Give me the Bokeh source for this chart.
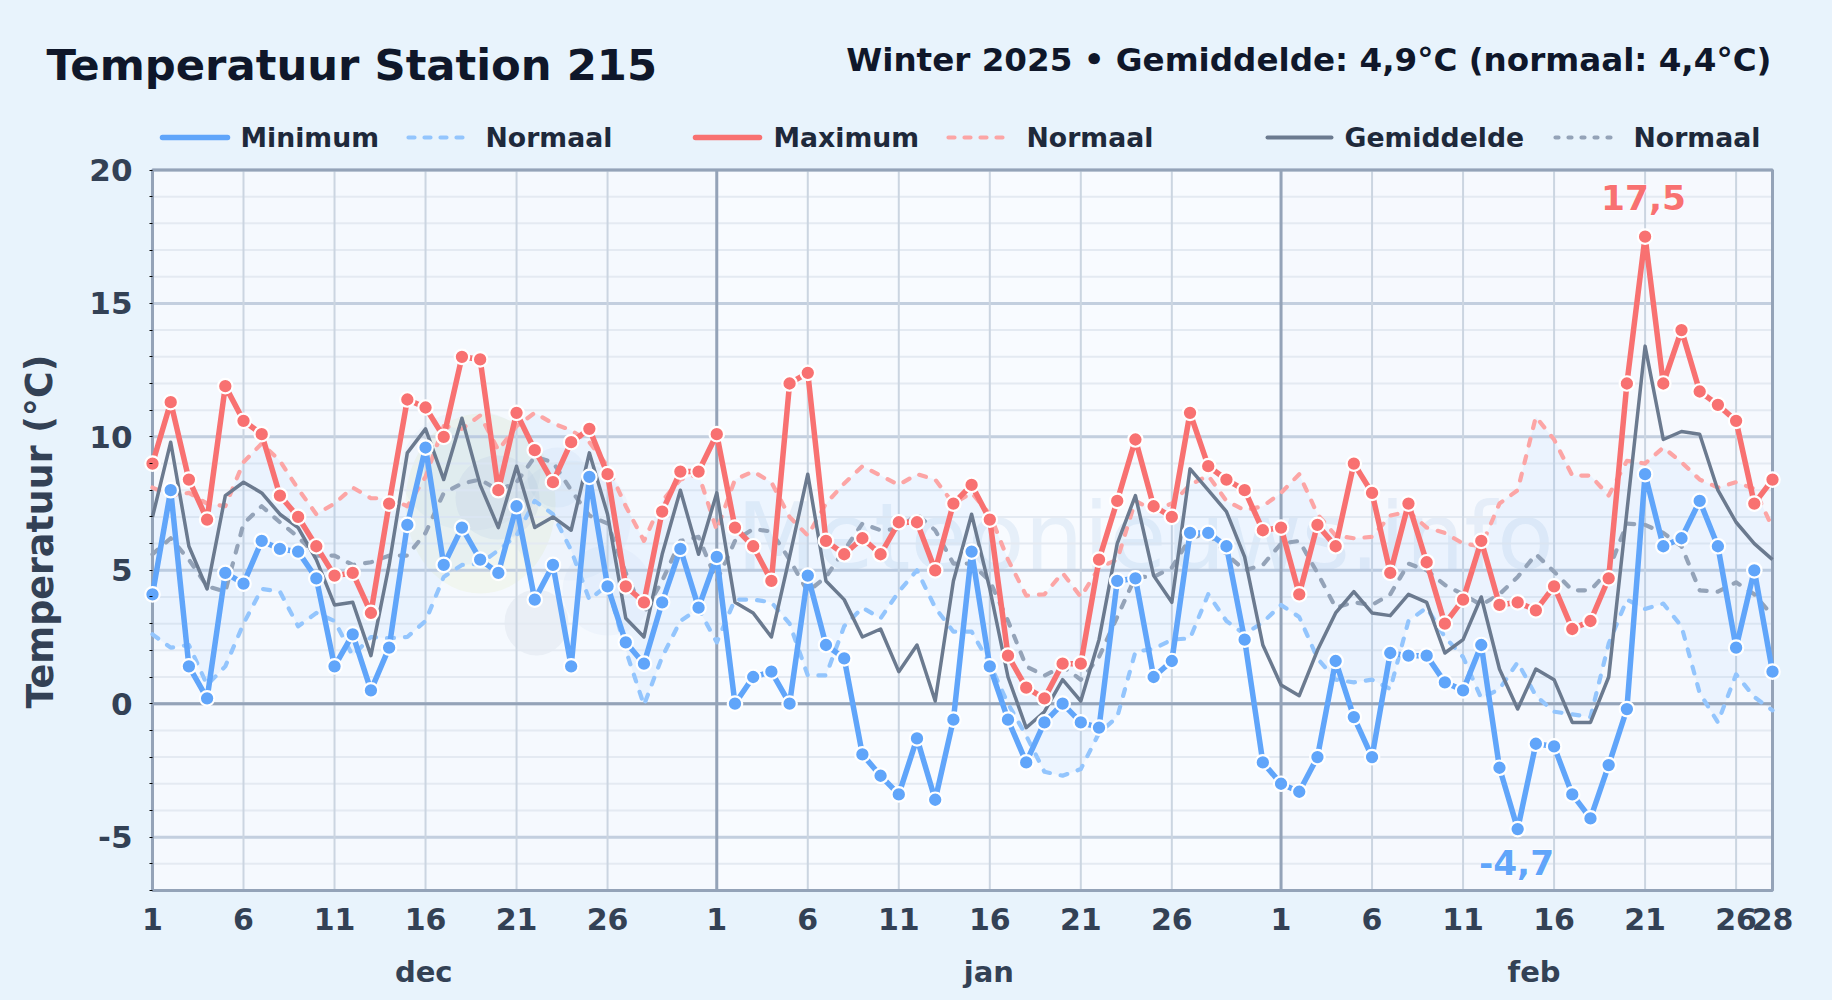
from bokeh.plotting import figure
from bokeh.models import Range1d, LinearAxis, FixedTicker, Label
from bokeh.embed import file_html
from bokeh.resources import INLINE
from bokeh.core.properties import value

t_min = [4.1, 8.0, 1.4, 0.2, 4.9, 4.5, 6.1, 5.8, 5.7, 4.7, 1.4, 2.6, 0.5, 2.1, 6.7, 9.6, 5.2, 6.6, 5.4, 4.9, 7.4, 3.9, 5.2, 1.4, 8.5, 4.4, 2.3, 1.5, 3.8, 5.8, 3.6,
         5.5, 0.0, 1.0, 1.2, 0.0, 4.8, 2.2, 1.7, -1.9, -2.7, -3.4, -1.3, -3.6, -0.6, 5.7, 1.4, -0.6, -2.2, -0.7, 0.0, -0.7, -0.9, 4.6, 4.7, 1.0, 1.6, 6.4, 6.4, 5.9, 2.4, -2.2,
         -3.0, -3.3, -2.0, 1.6, -0.5, -2.0, 1.9, 1.8, 1.8, 0.8, 0.5, 2.2, -2.4, -4.7, -1.5, -1.6, -3.4, -4.3, -2.3, -0.2, 8.6, 5.9, 6.2, 7.6, 5.9, 2.1, 5.0, 1.2]
t_max = [9.0, 11.3, 8.4, 6.9, 11.9, 10.6, 10.1, 7.8, 7.0, 5.9, 4.8, 4.9, 3.4, 7.5, 11.4, 11.1, 10.0, 13.0, 12.9, 8.0, 10.9, 9.5, 8.3, 9.8, 10.3, 8.6, 4.4, 3.8, 7.2, 8.7, 8.7,
         10.1, 6.6, 5.9, 4.6, 12.0, 12.4, 6.1, 5.6, 6.2, 5.6, 6.8, 6.8, 5.0, 7.5, 8.2, 6.9, 1.8, 0.6, 0.2, 1.5, 1.5, 5.4, 7.6, 9.9, 7.4, 7.0, 10.9, 8.9, 8.4, 8.0, 6.5,
         6.6, 4.1, 6.7, 5.9, 9.0, 7.9, 4.9, 7.5, 5.3, 3.0, 3.9, 6.1, 3.7, 3.8, 3.5, 4.4, 2.8, 3.1, 4.7, 12.0, 17.5, 12.0, 14.0, 11.7, 11.2, 10.6, 7.5, 8.4]
t_avg = [7.0, 9.8, 5.9, 4.3, 7.8, 8.3, 7.9, 7.1, 6.6, 5.4, 3.7, 3.8, 1.8, 5.2, 9.4, 10.3, 8.4, 10.7, 8.2, 6.6, 8.9, 6.6, 7.0, 6.5, 9.4, 7.1, 3.2, 2.5, 5.6, 8.0, 5.6,
         7.9, 3.8, 3.4, 2.5, 5.5, 8.6, 4.6, 3.9, 2.5, 2.8, 1.2, 2.2, 0.1, 4.6, 7.1, 4.3, 1.0, -0.9, -0.3, 0.9, 0.1, 2.4, 6.0, 7.8, 4.8, 3.8, 8.8, 8.0, 7.2, 5.5, 2.2,
         0.7, 0.3, 2.0, 3.4, 4.2, 3.4, 3.3, 4.1, 3.8, 1.9, 2.4, 4.0, 1.3, -0.2, 1.3, 0.9, -0.7, -0.7, 1.0, 7.2, 13.4, 9.9, 10.2, 10.1, 8.0, 6.8, 6.0, 5.4]
norm_min = [2.6, 2.1, 2.2, 0.7, 1.4, 3.0, 4.3, 4.2, 2.9, 3.4, 3.1, 1.8, 2.5, 2.45, 2.5, 3.1, 4.75, 5.2, 5.25, 5.75, 6.3, 7.6, 7.1, 5.75, 3.9, 4.45, 2.0, -0.05, 1.75, 3.1, 3.55,
            2.3, 3.9, 3.9, 3.8, 3.0, 1.06, 1.06, 2.9, 3.6, 3.2, 4.2, 5.0, 3.6, 2.7, 2.7, 1.5, 0.0, -1.2, -2.55, -2.7, -2.45, -1.1, -0.5, 1.95, 2.05, 2.4, 2.45, 4.1, 3.1, 2.6, 3.05,
            3.7, 3.25, 1.7, 0.9, 0.8, 0.9, 0.55, 3.1, 3.6, 2.5, 1.75, 0.2, 0.55, 1.55, 0.3, -0.3, -0.4, -0.5, 2.25, 3.9, 3.55, 3.75, 2.9, 0.4, -0.7, 1.1, 0.25, -0.25]
norm_max = [8.1, 7.8, 7.9, 7.5, 7.4, 9.05, 9.75, 9.1, 8.05, 7.1, 7.5, 8.1, 7.7, 7.7, 7.4, 8.5, 10.4, 10.3, 10.8, 9.5, 10.4, 10.9, 10.5, 10.25, 9.8, 8.9, 7.4, 6.1, 7.6, 8.4, 8.6,
            6.5, 8.4, 8.7, 8.3, 7.0, 6.3, 7.5, 8.25, 8.9, 8.55, 8.2, 8.6, 8.4, 7.5, 7.9, 7.1, 5.4, 4.05, 4.1, 4.9, 4.0, 5.1, 5.4, 7.6, 7.25, 7.5, 8.2, 8.55, 7.6, 7.25, 7.4,
            7.9, 8.6, 7.1, 6.3, 6.2, 6.25, 7.05, 7.2, 6.6, 6.4, 6.0, 5.9, 7.5, 8.0, 10.75, 9.9, 8.55, 8.55, 7.8, 9.1, 9.0, 9.6, 9.05, 8.4, 8.1, 8.3, 8.05, 6.6]
norm_avg = [5.6, 6.2, 5.4, 4.4, 4.2, 6.75, 7.4, 6.8, 6.25, 5.55, 5.55, 5.2, 5.3, 5.55, 5.55, 6.4, 7.9, 8.25, 8.4, 8.0, 8.3, 9.25, 9.05, 8.0, 7.05, 6.75, 4.9, 3.4, 4.6, 6.1, 6.25,
            4.6, 6.1, 6.55, 6.45, 5.4, 4.2, 4.75, 5.75, 6.75, 6.5, 6.55, 7.1, 6.5, 5.25, 5.25, 4.6, 3.1, 1.4, 1.05, 1.4, 0.9, 1.75, 3.25, 4.75, 4.75, 5.1, 6.2, 6.4, 5.6, 5.0, 5.2,
            6.0, 6.1, 4.9, 3.6, 3.8, 3.7, 4.1, 5.25, 5.0, 4.45, 4.1, 3.7, 4.1, 4.75, 5.6, 4.95, 4.25, 4.25, 5.0, 6.75, 6.7, 6.4, 5.9, 4.25, 4.2, 4.55, 4.1, 3.3]
days = list(range(90))
x_ticks = [0, 5, 10, 15, 20, 25, 31, 36, 41, 46, 51, 56, 62, 67, 72, 77, 82, 87, 89]
x_tick_labels = ["1", "6", "11", "16", "21", "26", "1", "6", "11", "16", "21", "26", "1", "6", "11", "16", "21", "26", "28"]
y_ticks = [-5, 0, 5, 10, 15, 20]
y_tick_labels = ["-5", "0", "5", "10", "15", "20"]
y_minor = list(range(-7, 21))
month_names = ["dec", "jan", "feb"]
month_starts = [0, 31, 62, 89]
month_centres = [14.9, 45.95, 75.9]

assert all(len(a) == 90 for a in (t_min, t_max, t_avg, norm_min, norm_max, norm_avg))

BG = "#e8f3fc"
FONT = "DejaVu Sans"
C_MIN, C_MAX, C_AVG = "#60a5fa", "#f87171", "#6b7a8f"
C_NMIN, C_NMAX, C_NAVG = "#93c5fd", "#fca5a5", "#94a3b8"
C_MARK = "#4f86c6"

L, R, T, B = 152.0, 1772.0, 169.5, 890.0
ux = (R - L) / 89
uy = (B - T) / 27
X = lambda px: (px - L) / ux
Y = lambda py: 20 - (py - T) / uy
W, H = 1832, 1000

p = figure(width=W, height=H, output_backend="svg", toolbar_location=None,
           x_range=Range1d(X(0), X(W)), y_range=Range1d(Y(H), Y(0)),
           x_axis_location=None, y_axis_location=None, min_border=0,
           background_fill_color=BG, border_fill_color=BG, outline_line_color=None)
p.grid.visible = False

# plot area with a faint tint per month
tints = ["#f5f9fe", "#f8fbff", "#f6f9fe"]
for i in range(3):
    p.quad(left=month_starts[i], right=month_starts[i + 1], bottom=-7, top=20,
           fill_color=tints[i], line_color=None, level="image")

# watermark
for cx, cy, rx, ry, col, a in [(480, 503, 75, 90, "#d9e89a", 0.14), (497, 497, 42, 42, C_MARK, 0.07),
                               (557, 477, 30, 30, C_MARK, 0.05), (536, 622, 32, 33, "#8a9db5", 0.10),
                               (607, 590, 45, 45, C_MARK, 0.04), (470, 470, 70, 60, C_MARK, 0.04),
                               (570, 520, 60, 60, C_MARK, 0.04)]:
    p.ellipse(x=X(cx), y=Y(cy), width=2 * rx / ux, height=2 * ry / uy, fill_color=col, fill_alpha=a,
              line_color=None, level="image")
p.text(x=[X(736)], y=[Y(536)], text=["Meteonieuws.info"], text_font=value(FONT), text_font_size="93px",
       text_baseline="alphabetic", text_color=C_MARK, text_alpha=0.10, level="image")

# grid lines, kept inside the plot area
p.segment(x0=0, x1=89, y0=y_minor, y1=y_minor, line_color="#e4eaf2", line_width=2, level="underlay")
p.segment(x0=0, x1=89, y0=y_ticks, y1=y_ticks, line_color="#c3cfdf", line_width=3, level="underlay")
p.segment(x0=x_ticks, x1=x_ticks, y0=-7, y1=20, line_color="#cbd5e1", line_width=2, level="underlay")

# band and series
p.varea(x=days, y1=norm_min, y2=norm_max, fill_color="#60a5fa", fill_alpha=0.07)

# month and zero lines, frame
p.segment(x0=month_starts[1:3], x1=month_starts[1:3], y0=-7, y1=20, line_color="#94a3b8", line_width=3)
p.segment(x0=[0], x1=[89], y0=[0], y1=[0], line_color="#94a3b8", line_width=3)
p.quad(left=0, right=89, bottom=-7, top=20, fill_color=None, line_color="#94a3b8", line_width=3)

for d, col in ((norm_min, C_NMIN), (norm_max, C_NMAX), (norm_avg, C_NAVG)):
    p.line(days, d, line_color=col, line_width=4.2, line_dash="7 11", line_cap="round", line_join="round")

p.line(days, t_avg, line_color=C_AVG, line_width=3.5, line_join="round")
p.line(days, t_min, line_color=C_MIN, line_width=5.5, line_join="round")
p.scatter(days, t_min, size=14.5, fill_color=C_MIN, line_color="white", line_width=2.2)
p.line(days, t_max, line_color=C_MAX, line_width=5.5, line_join="round")
p.scatter(days, t_max, size=14.5, fill_color=C_MAX, line_color="white", line_width=2.2)

# axes
yax = LinearAxis(fixed_location=0, ticker=FixedTicker(ticks=y_ticks, minor_ticks=y_minor),
                 major_label_overrides=dict(zip(y_ticks, y_tick_labels)),
                 axis_line_color=None, major_tick_line_color=None,
                 minor_tick_line_color="black", minor_tick_out=3, minor_tick_in=0,
                 major_label_text_font=FONT, major_label_text_font_style="bold",
                 major_label_text_font_size="31px", major_label_text_color="#334155",
                 major_label_standoff=14)
xax = LinearAxis(fixed_location=-7, ticker=FixedTicker(ticks=x_ticks),
                 major_label_overrides=dict(zip(x_ticks, x_tick_labels)),
                 axis_line_color=None, major_tick_line_color=None, minor_tick_line_color=None,
                 major_label_text_font=FONT, major_label_text_font_style="bold",
                 major_label_text_font_size="30px", major_label_text_color="#334155",
                 major_label_standoff=11)
p.add_layout(yax, "left")
p.add_layout(xax, "below")


def label(text, px, py, size, color, align="left", **kw):
    # py is the vertical middle of the text
    p.add_layout(Label(x=X(px), y=Y(py), text=text, text_font=FONT, text_font_size=f"{size}px",
                       text_font_style="bold", text_color=color,
                       text_align=align, text_baseline="alphabetic", **kw))


label("Temperatuur Station 215", 46, 64, 43.3, "#0f172a")
label("Winter 2025 \u2022 Gemiddelde: 4,9\u00b0C (normaal: 4,4\u00b0C)", 1771, 59, 32.6, "#0f172a", align="right")
p.add_layout(Label(x=X(39.5), y=Y(531), text="Temperatuur (\u00b0C)", text_font=FONT, text_font_size="36.4px",
                   text_font_style="bold", text_color="#334155", text_align="center",
                   text_baseline="alphabetic", angle=1.5708))
for name, cx in zip(month_names, month_centres):
    label(name, L + cx * ux, 971.5, 29, "#334155", align="center")

# legend
legend = [("Minimum", C_MIN, 5.5, None, 162, 227, 240), ("Normaal", C_NMIN, 4.2, "6 10", 408, 462, 485),
          ("Maximum", C_MAX, 5.5, None, 695, 759, 773), ("Normaal", C_NMAX, 4.2, "6 10", 948, 1003, 1026),
          ("Gemiddelde", C_AVG, 4, None, 1267, 1331, 1344), ("Normaal", C_NAVG, 4.2, "3 10", 1555, 1616, 1633)]
for name, col, lw, dash, x0, x1, tx in legend:
    p.line([X(x0), X(x1)], [Y(137), Y(137)], line_color=col, line_width=lw, line_cap="round",
           line_dash=dash if dash else "solid")
    label(name, tx, 137, 26.7, "#1e293b")

# extreme labels: a white halo below, the coloured text on top
for txt, cx, cy, col in (("17,5", 1643, 197, C_MAX), ("-4,7", 1516, 862, C_MIN)):
    label(txt, cx, cy, 34.4, "white", align="center", text_outline_color="white")
    label(txt, cx, cy, 34.4, col, align="center")

TEMPLATE = """{% block inner_head %}{{ super() }}<style>html,body{margin:0;background:#e8f3fc;overflow:hidden;}</style>{% endblock %}"""
open("out.html", "w").write(file_html(p, INLINE, template=TEMPLATE))
